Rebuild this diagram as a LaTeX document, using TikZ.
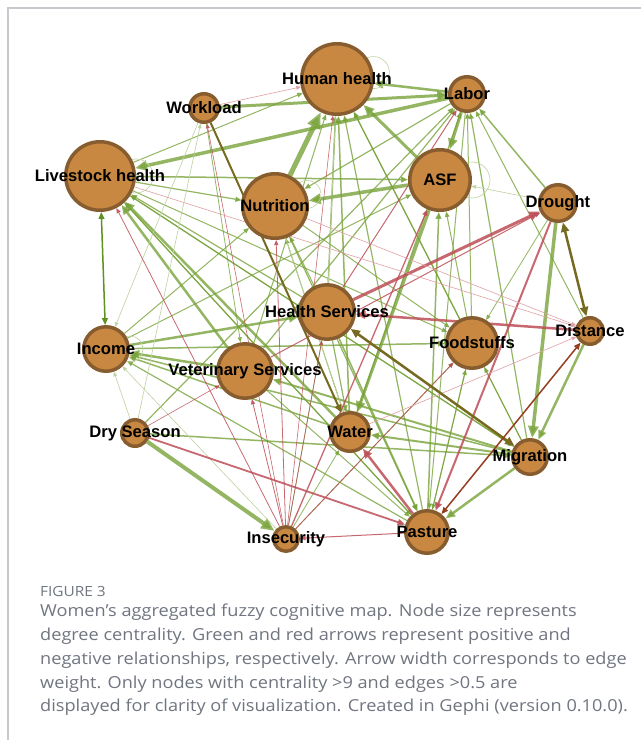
\documentclass[tikz,border=0pt]{standalone}
\usepackage{fontspec}
\setmainfont{Liberation Sans}
\newfontfamily\capfont{Open Sans}[FakeStretch=1.1]
\usetikzlibrary{arrows.meta}

\definecolor{posgreen}{RGB}{118,162,55}
\definecolor{palegreen}{RGB}{190,210,160}
\definecolor{negred}{RGB}{190,78,88}
\definecolor{pinkred}{RGB}{225,160,165}
\definecolor{olivebr}{RGB}{118,105,32}
\definecolor{rustbr}{RGB}{150,62,32}
\definecolor{darkgreen}{RGB}{95,145,30}
\definecolor{nodefill}{RGB}{200,136,66}
\definecolor{nodeline}{RGB}{135,92,46}
\definecolor{captext}{RGB}{112,117,128}
\definecolor{framegray}{RGB}{200,200,206}

\tikzset{
  vertex/.style={circle, inner sep=0pt, outer sep=0pt},
  ball/.style={circle, draw=nodeline, fill=nodefill, line width=3.5pt, inner sep=0pt},
  lbl/.style={inner sep=0pt, font=\fontsize{16.6}{18}\selectfont\bfseries},
  posrel/.style={->, draw=posgreen, opacity=.78},
  faintrel/.style={->, draw=palegreen, line width=.6pt},
  negrel/.style={->, draw=negred, opacity=.85},
  pinkrel/.style={->, draw=pinkred, line width=.6pt},
  oliverel/.style={<->, draw=olivebr},
  rustrel/.style={<->, draw=rustbr},
  loopline/.style={draw=palegreen, line width=.6pt},
  capline/.style={anchor=base west, inner sep=0pt, text=captext, font=\capfont\fontsize{16.5}{18}\selectfont}
}

\begin{document}
\begin{tikzpicture}[x=1pt, y=-1pt, >={Triangle[length=3pt 2.6, width=2.4pt 2.2]}]
  \useasboundingbox (0,0) rectangle (641,740);
  \fill[white] (0,0) rectangle (641,740);
  % frame
  \draw[framegray, line width=1.2pt] (8,740) -- (8,8) -- (641,8);

  % concepts (invisible anchors for the arrows)
  \foreach \n/\x/\y/\r in {hh/337/79/37, lb/467/94/19, wl/204/108/16, lh/100/176/36,
      nu/275/206/34, asf/440/180/32, dr/558/203/20, hs/327/312/29, in/106/349/24,
      fs/472/343/27, di/590/331/15, vs/245/371/29, ds/135/433/15, wa/350/432/21,
      mi/530/457/19, is/286/539/14, pa/427/532/23}
    \node[vertex, minimum size=2*\r pt] (\n) at (\x,\y) {};

  % positive relations
  \foreach \a/\b/\w in {lb/lh/3.5, wl/lb/3, lb/hh/2.5, nu/hh/5, asf/hh/3, lb/asf/3,
      asf/nu/3.5, lh/asf/1.5, lh/nu/1.2, lh/hh/1, lb/nu/1.2, ds/is/4, ds/mi/1.5,
      mi/pa/2.5, dr/mi/3.5, di/mi/2.5, asf/wa/3, dr/lb/1.5, mi/lb/1.2, di/lb/1,
      in/hs/2.5, in/fs/1.5, vs/in/2.5, wa/in/1.5, mi/in/1.5, pa/in/1.2, mi/wa/2,
      mi/vs/2, wa/lh/2.5, vs/lh/2.5, hs/lh/1.2, pa/lh/1.2, mi/lh/1, hs/hh/1.5,
      wa/hh/1.5, pa/hh/1.2, fs/hh/1.2, vs/hh/1, mi/hh/1, hs/pa/1.5, nu/pa/1.2,
      lb/pa/1, fs/pa/1, ds/lb/1.2, wl/vs/.8, lh/fs/1, nu/fs/1, pa/fs/1, mi/fs/1,
      dr/fs/.8, is/hs/.8, is/fs/.8, is/wa/.8, fs/lb/1, wa/lb/1.2, vs/lb/1.2,
      in/nu/1, pa/asf/1.5, fs/asf/1, hs/nu/1, wa/nu/1, in/asf/1, lh/mi/1.2,
      hs/wa/1.2, vs/pa/1, lh/pa/1}
    \draw[posrel, line width=\w pt] (\a) -- (\b);
  \foreach \a/\b in {ds/wl, wl/in, dr/asf, is/in, hh/hs, ds/in, nu/wa}
    \draw[faintrel] (\a) -- (\b);

  % negative relations
  \foreach \a/\b/\w in {ds/pa/1.8, pa/is/1, pa/wa/2.5, hs/dr/3, di/hs/2.5, dr/pa/2,
      is/asf/1.3, is/lh/.8, hs/lb/1, is/nu/.8, is/vs/.8, is/fs/.8, is/hh/.6,
      is/wl/.6, ds/vs/.6, vs/dr/1, is/hs/.6}
    \draw[negrel, line width=\w pt] (\a) -- (\b);
  \foreach \a/\b in {lh/di, wa/di, wl/hh, nu/di}
    \draw[pinkrel] (\a) -- (\b);

  % two-way relations
  \draw[<->, draw=darkgreen, line width=1.5pt] (lh) -- (in);
  \draw[oliverel, line width=2.5pt] (dr) -- (di);
  \draw[oliverel, line width=2.5pt] (hs) -- (mi);
  \draw[->, draw=olivebr, line width=2pt] (wl) -- (wa);
  \draw[rustrel, line width=1.5pt] (di) -- (pa);

  % self loops
  \draw[loopline] (hh.10) circle[radius=16pt];
  \draw[loopline] (lh.east) circle[radius=17pt];
  \draw[loopline] (nu.20) circle[radius=14pt];
  \draw[loopline] (asf.east) circle[radius=18pt];
  \draw[loopline] (in.east) circle[radius=13pt];

  % concept discs and names
  \foreach \n/\r in {hh/37, lb/19, wl/16, lh/36, nu/34, asf/32, dr/20, hs/29, in/24,
      fs/27, di/15, vs/29, ds/15, wa/21, mi/19, is/14, pa/23}
    \node[ball, minimum size=2*\r pt-3.5pt] (\n-d) at (\n) {};
  \foreach \n/\t in {hh/Human health, lb/Labor, wl/Workload, lh/Livestock health,
      nu/Nutrition, asf/ASF, dr/Drought, hs/Health Services, in/Income,
      fs/Foodstuffs, di/Distance, vs/Veterinary Services, ds/Dry Season,
      wa/Water, mi/Migration, is/Insecurity, pa/Pasture}
    \node[lbl] (\n-t) at (\n) {\t};

  % caption
  \node[capline, font=\capfont\fontsize{14}{16}\selectfont] (fig) at (40,596) {FIGURE 3};
  \node[capline] (cap1) at (40,616.7) {Women’s aggregated fuzzy cognitive map. Node size represents};
  \node[capline] (cap2) at (40,640.5) {degree centrality. Green and red arrows represent positive and};
  \node[capline] (cap3) at (40,664.3) {negative relationships, respectively. Arrow width corresponds to edge};
  \node[capline] (cap4) at (40,688.1) {weight. Only nodes with centrality >9 and edges >0.5 are};
  \node[capline] (cap5) at (40,711.9) {displayed for clarity of visualization. Created in Gephi (version 0.10.0).};
\end{tikzpicture}
\end{document}
